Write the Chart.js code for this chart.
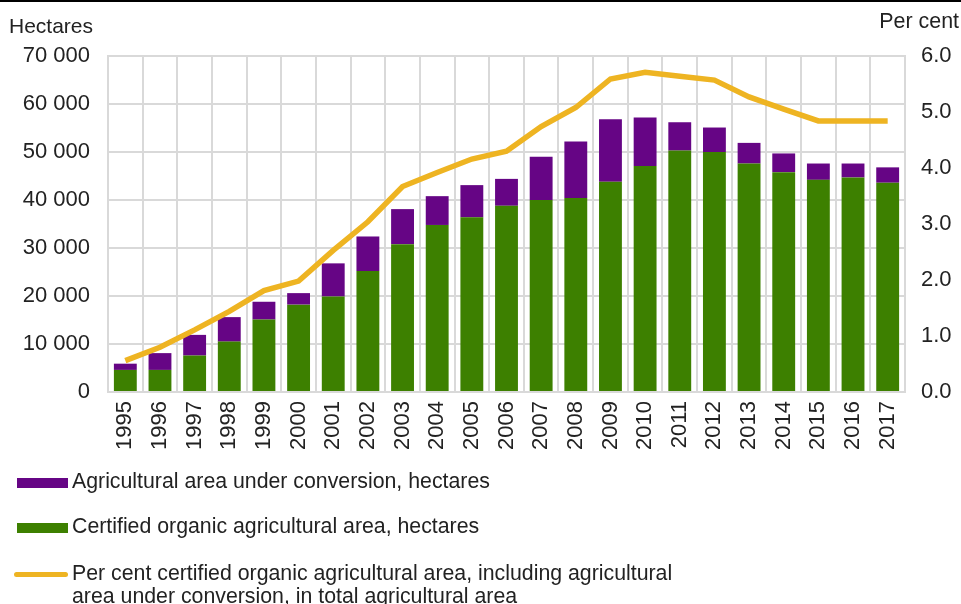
<!DOCTYPE html>
<html>
<head>
<meta charset="utf-8">
<script src="https://cdn.jsdelivr.net/npm/chart.js@4.4.0/dist/chart.umd.min.js"></script>
<style>
  body { margin: 0; background: #fff; font-family: "Liberation Sans", Arial, sans-serif; }
  #wrap { position: relative; width: 961px; height: 604px; overflow: hidden; border-top: 2px solid #000; box-sizing: border-box; }
  #wrap canvas { position: absolute; left: 0; top: -2px; }
  .leg { position: absolute; left: 0; font-size: 21.3px; color: #222; line-height: 23px; }
  .sw { position: absolute; left: 17px; width: 51px; }
  .txt { position: absolute; left: 72px; white-space: nowrap; }
</style>
</head>
<body>
<div id="wrap">
  <canvas id="chart" width="961" height="604"></canvas>
  <div id="legend"></div>
</div>
<script>
// Years on the x axis
const years = ['1995','1996','1997','1998','1999','2000','2001','2002','2003','2004','2005','2006',
  '2007','2008','2009','2010','2011','2012','2013','2014','2015','2016','2017'];

// Certified organic agricultural area, hectares
const certified = [4600, 4600, 7600, 10500, 15100, 18200, 19900, 25200, 30800, 34800, 36400, 38800,
  40000, 40400, 43800, 47100, 50300, 50000, 47600, 45800, 44200, 44700, 43600];

// Agricultural area under conversion, hectares
const conversion = [1300, 3500, 4300, 5100, 3700, 2400, 6900, 7200, 7300, 6000, 6700, 5600,
  9000, 11800, 13000, 10100, 5900, 5100, 4300, 3900, 3400, 2900, 3200];

// Per cent of total agricultural area (incl. under conversion)
const perCent = [0.56, 0.80, 1.11, 1.44, 1.81, 1.98, 2.53, 3.04, 3.67, 3.92, 4.16, 4.30,
  4.74, 5.08, 5.59, 5.71, 5.64, 5.57, 5.27, 5.05, 4.84, 4.84, 4.84];

const leftTicks = [0, 10000, 20000, 30000, 40000, 50000, 60000, 70000];
const rightTicks = [0, 1, 2, 3, 4, 5, 6];

const labels = [
  'Agricultural area under conversion, hectares',
  'Certified organic agricultural area, hectares',
  'Per cent certified organic agricultural area, including agricultural\narea under conversion, in total agricultural area'
];

const PURPLE = '#660585';
const GREEN = '#3D8000';
const GOLD = '#EEB422';
const GRID = '#D9D9D9';
const TEXT = '#222222';
const FONT = '"Liberation Sans", Arial, sans-serif';

const fmt = v => String(v).replace(/\B(?=(\d{3})+(?!\d))/g, ' ');

const axisTitles = {
  id: 'axisTitles',
  afterDraw(chart) {
    const ctx = chart.ctx;
    ctx.save();
    ctx.font = '21px ' + FONT;
    ctx.fillStyle = TEXT;
    ctx.textBaseline = 'middle';
    ctx.textAlign = 'left';
    ctx.fillText('Hectares', 9, 27);
    ctx.textAlign = 'right';
    ctx.font = '21.4px ' + FONT;
    ctx.fillText('Per cent', 959, 22);
    ctx.restore();
  }
};

new Chart(document.getElementById('chart'), {
  data: {
    labels: years,
    datasets: [
      {
        type: 'line',
        label: labels[2],
        data: perCent,
        yAxisID: 'y1',
        borderColor: GOLD,
        borderWidth: 5.5,
        pointRadius: 0,
        tension: 0,
        order: 0
      },
      {
        type: 'bar',
        label: labels[1],
        data: certified,
        backgroundColor: GREEN,
        yAxisID: 'y',
        stack: 'a',
        order: 1,
        categoryPercentage: 1,
        barPercentage: 0.66
      },
      {
        type: 'bar',
        label: labels[0],
        data: conversion,
        backgroundColor: PURPLE,
        yAxisID: 'y',
        stack: 'a',
        order: 1,
        categoryPercentage: 1,
        barPercentage: 0.66
      }
    ]
  },
  options: {
    responsive: false,
    animation: false,
    layout: { padding: { top: 56, left: 0, right: 0, bottom: 0 } },
    plugins: { legend: { display: false }, tooltip: { enabled: false } },
    scales: {
      x: {
        stacked: true,
        grid: { color: GRID, lineWidth: 2, drawTicks: false, offset: true },
        border: { color: GRID, width: 2 },
        ticks: {
          color: TEXT, font: { size: 22, family: FONT },
          minRotation: 90, maxRotation: 90, padding: 9, autoSkip: false
        },
        afterFit(scale) { scale.height = 212; }
      },
      y: {
        stacked: true,
        position: 'left',
        min: 0, max: 70000,
        afterBuildTicks(scale) { scale.ticks = leftTicks.map(v => ({ value: v })); },
        grid: { color: GRID, lineWidth: 2, drawTicks: false },
        border: { color: GRID, width: 2 },
        ticks: {
          color: TEXT, font: { size: 22, family: FONT },
          padding: 18, callback: v => fmt(v)
        },
        afterFit(scale) { scale.width = 108; }
      },
      y1: {
        position: 'right',
        min: 0, max: 6,
        afterBuildTicks(scale) { scale.ticks = rightTicks.map(v => ({ value: v })); },
        grid: { drawOnChartArea: false, drawTicks: false },
        border: { color: GRID, width: 2 },
        ticks: {
          color: TEXT, font: { size: 22, family: FONT },
          padding: 16, callback: v => v.toFixed(1)
        },
        afterFit(scale) { scale.width = 56; }
      }
    }
  },
  plugins: [axisTitles]
});

// legend below the chart
const legend = document.getElementById('legend');
const items = [
  { text: labels[0], color: PURPLE, top: 468, sw: 'top:8px;height:10px;' },
  { text: labels[1], color: GREEN, top: 513, sw: 'top:8px;height:10px;' },
  { text: labels[2], color: GOLD, top: 560, sw: 'top:10px;height:5px;border-radius:3px;left:14px;width:54px;' }
];
items.forEach(it => {
  const d = document.createElement('div');
  d.className = 'leg';
  d.style.top = it.top + 'px';
  d.innerHTML = '<div class="sw" style="background:' + it.color + ';' + it.sw + '"></div>' +
    '<div class="txt">' + it.text.replace('\n', '<br>') + '</div>';
  legend.appendChild(d);
});
</script>
</body>
</html>
